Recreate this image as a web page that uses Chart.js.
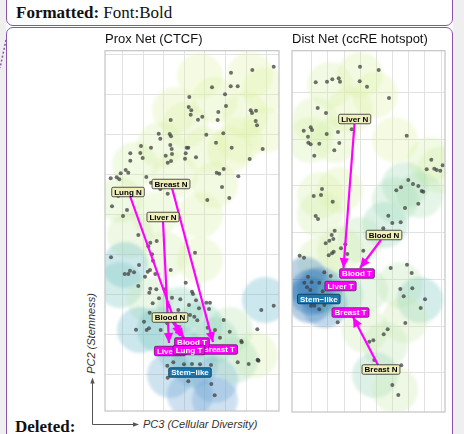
<!DOCTYPE html>
<html>
<head>
<meta charset="utf-8">
<script src="https://cdn.jsdelivr.net/npm/chart.js@4/dist/chart.umd.min.js"></script>
<style>
  html, body { margin: 0; padding: 0; background: #efefef; }
  #page { position: relative; width: 464px; height: 434px; overflow: hidden; background: #efefef; }
  #sheet { position: absolute; left: 6px; top: 0; width: 447px; height: 434px; background: #fff; }
  .box { position: absolute; box-sizing: border-box; border: 1.5px solid #8a55a6; }
  #fmtBox { left: 6px; top: -6px; width: 447px; height: 32px; border-radius: 0 0 7px 7px; }
  #paneBox { left: 6px; top: 27px; width: 447px; height: 420px; border-radius: 7px 7px 0 0; }
  .serif { position: absolute; font-family: "Liberation Serif", "Times New Roman", serif; font-size: 17px; line-height: 17px; color: #111; white-space: nowrap; }
  .axisNote { position: absolute; font-family: "Liberation Sans", Arial, sans-serif; font-style: italic; font-size: 11px; line-height: 11px; color: #333; white-space: nowrap; }
  canvas { position: absolute; }
</style>
</head>
<body>
<div id="page">
  <div id="sheet"></div>
  <div class="box" id="fmtBox"></div>
  <div class="box" id="paneBox"></div>
  <div class="serif" style="left:16px; top:4px;"><b>Formatted:</b> Font:Bold</div>
  <div class="serif" style="left:15px; top:418px;"><b>Deleted:</b></div>
  <svg width="464" height="434" style="position:absolute; left:0; top:0;">
    <line x1="6" y1="40" x2="0" y2="68" stroke="#8a55a6" stroke-width="1.5" stroke-dasharray="2,2"/>
    <path d="M92.5 424.5 V382" stroke="#555" stroke-width="1" fill="none"/>
    <path d="M92.5 424.5 H134" stroke="#555" stroke-width="1" fill="none"/>
    <polygon points="92.5,377.5 90.3,383.5 94.7,383.5" fill="#555"/>
    <polygon points="139,424.5 133,422.3 133,426.7" fill="#555"/>
  </svg>
  <div class="axisNote" style="left:143px; top:418.5px;">PC3 (Cellular Diversity)</div>
  <div class="axisNote" style="left:31px; top:328px; width:120px; text-align:center; transform: rotate(-90deg); transform-origin: 60px 5.5px;">PC2 (Stemness)</div>
  <canvas id="prox" width="182" height="385" style="left:101px; top:30px;"></canvas>
  <canvas id="dist" width="161" height="386" style="left:288px; top:30px;"></canvas>
</div>
<script>
// ---------- Prox Net (CTCF) ----------
// cell positions: [PC3, PC2]
const proxCells = [
  [168.7,344.3],[147.3,341],[126,338.3],[107,323.7],[125.7,324.7],[132.7,324.7],[120,316.7],[84.3,314],[121,305],[83.7,304],
  [86.3,300.7],[85.7,296.3],[113.3,299],[145.7,300.7],[151,300.3],[147,298],[97.3,294.3],[93,291.3],[112.7,291],[65.7,291],
  [150.7,290],[152,285.7],[53.7,277.3],[64.7,277],[66,274.7],[101.3,276.3],[118.3,277.7],[55.3,272.3],[111,268.3],[36,265],
  [46,263.3],[65.3,266],[66.7,262],[81.7,263.3],[83.3,263.3],[126.7,263.3],[157.7,262],[25.3,257.7],[35.3,258],[80.7,257.7],
  [67,257],[60.7,255.3],[37.7,253],[91,253.7],[80,252.3],[66,250],[25.3,250.3],[62.7,248.3],[144.7,252],[118.7,242],
  [20.7,241],[23.3,238.3],[15.7,237.7],[11.7,233.7],[5.7,232.7],[14.3,231.7],[111.7,238.3],[114.3,237.3],[133.3,234.7],[41.3,234],
  [46,228.3],[117,224],[55.3,222],[62.7,217.3],[124.3,213],[102.3,211],[13.3,215],[7,204.7],[22,201],[18,195],
  [33.3,176],[45.3,168.3],[51.7,170],[43.3,164.7],[6,153.7],[90,158.3],[47,156.7],[48,150.3],[34,146],[45,141],
  [42.7,139.3],[25,140.3],[29,138.7],[19.7,137],[23.3,137],[40,134.3],[65.7,141],[50.3,137],[80.7,128.3],[33.3,125],
  [45.3,122.3],[51.3,121.7],[44.3,118.3],[59.7,121.7],[87,119.3],[88,117],[54,112.7],[67,113.3],[75.3,111.7],[91,110.7],
  [101.3,108.3],[105,108.3],[47.7,107.7],[84,106],[63.7,105],[94,102.7],[104,102],[73.3,101],[44.7,98.3],[85,96],
  [89.3,94.3],[92.3,90.7],[118.7,91],[39,89.3],[31,81.3],[41.7,81],[44,82.7],[55.7,81],[73,84.3],[62.3,87.7],
  [102.7,83.3],[110,81],[124.7,79.3],[152.3,81.7],[156.3,101],[168.7,105.3],[115,73.3],[136.3,70],[136.7,68.7],[132.7,48.7],
  [143.7,47],[153,50.7],[153.5,50.2],[152.6,51.2],[62.3,45.3],[79,46.7],[87,47],[95,46.7],[106,46],[68.3,48.7],
  [62.7,33.3],[83.3,29.7],[106.3,27],[109.7,15.7]
];
// density halos: [PC3, PC2, stemness score]
const proxHalos = [
  [145,336,0.05],[110,311,0.08],[140,296,0.06],[80,286,0.1],[55,266,0.1],[100,261,0.08],[125,261,0.06],[30,246,0.12],
  [70,236,0.1],[110,226,0.08],[15,211,0.15],[50,196,0.12],[95,196,0.08],[25,176,0.2],[60,156,0.15],[95,151,0.1],
  [70,301,0.06],[135,271,0.05],[160,281,0.04],[160,321,0.04],[95,335,0.04],
  [20,146,0.62],[15,126,0.55],[45,111,0.3],[160,111,0.66],[150,56,0.1],[125,81,0.35],[75,101,0.48],[95,86,0.5],
  [55,81,0.52],[35,81,0.66],[110,71,0.45],[75,61,0.55],[90,46,0.62],[65,36,0.75],[110,31,0.78],[85,16,0.8],
  [110,11,0.8],[130,51,0.42]
];
const proxTagNames = ['Lung N', 'Breast N', 'Liver N', 'Blood N', 'Stem\u2212like', 'Breast T', 'Blood T', 'Liver T', 'Lung T'];
const proxTagKinds = ['normal', 'normal', 'normal', 'normal', 'stem', 'tumor', 'tumor', 'tumor', 'tumor'];
const proxTagPos = [[23,219],[66,227],[58,194],[65,93.5],[85,38.5],[114,61.5],[87,68.5],[65,60],[84,61]];
// transitions normal -> tumour
const proxMoveFrom = [[25,215],[58,190],[67,223],[67,90]];
const proxMoveTo = [[75,75],[64,68],[108,69],[79,73]];
const proxGridX = [17.5, 38.1, 58.7, 79.3, 99.9, 120.5, 141.1, 161.7];
const proxGridY = [36.7, 76.7, 116.7, 156.7, 196.7, 236.7, 276.7, 316.7, 356.7];

// ---------- Dist Net (ccRE hotspot) ----------
const distCells = [
  [68,345.3],[86.7,342],[23.7,329.7],[35,330.3],[40.3,332.7],[46.7,333.7],[48,330.3],[67.7,330.7],[75,325.3],[97,314],
  [25.7,304],[34,299],[18.7,284.7],[11.7,281.3],[20,282],[34.7,278],[46,280],[59.7,282.7],[16,275.3],[16.3,269.3],
  [18.7,267.7],[27.3,268.3],[47.3,269],[42.3,261.7],[22.3,256.3],[114.7,276.3],[139.3,252.3],[134.7,242.7],[142.3,243.3],[144.7,242],
  [148.3,241.3],[150.7,246.7],[116.3,232],[121,228],[126.3,226],[109,224.7],[104.3,221.7],[129.7,221],[131.3,220.3],[126.3,208.3],
  [113,204],[30,223],[21.7,216],[29,217],[40.7,210.3],[23.7,196],[26,193],[96.3,196.3],[100.3,189],[108.7,189.7],
  [91.3,183.7],[42.7,181.3],[39.7,177],[41.3,173],[37.3,171.3],[33.7,168.7],[53.3,167.7],[41.7,160.3],[40,158.7],[36.7,156.7],
  [55.3,158],[71.3,161.3],[7.7,156.3],[12,154.3],[32.3,139.7],[38.7,136],[115,147.3],[98.7,144],[119.7,139],[16,135.3],
  [12.3,129.3],[19.7,129.7],[27.3,129.3],[108.3,123],[120.3,123.7],[111.7,115.7],[133,112.7],[18.3,122],[30.7,120.7],[15,124.7],
  [19,106.3],[22.3,106.3],[32.3,107],[27.3,102.7],[128.7,104],[113.3,89],[45.7,89.7],[95.7,82.7],[91.7,77.7],[77.3,70.3],
  [81.3,71.7],[82.3,52],[109.3,46.7],[100.3,27],[106.3,17],[49,163.7]
];
const distHalos = [
  [68,337,0.08],[38,327,0.1],[83,317,0.05],[23,292,0.1],[18,272,0.12],[43,272,0.1],[103,272,0.05],[138,252,0.12],
  [148,242,0.15],[28,217,0.12],[28,197,0.15],[58,302,0.06],[48,222,0.08],
  [113,227,0.42],[128,217,0.38],[103,212,0.4],[93,187,0.46],[68,172,0.35],
  [48,162,0.15],[28,152,0.15],[13,132,0.95],[28,122,0.95],[18,112,1.0],[33,107,0.9],[20,120,1.0],[48,117,0.5],[73,122,0.35],
  [108,127,0.3],[128,112,0.55],[113,92,0.2],[73,82,0.2],[93,67,0.3],[83,37,0.45],[103,22,0.2]
];
const distTagNames = ['Liver N', 'Blood N', 'Breast N', 'Stem\u2212like', 'Breast T', 'Blood T', 'Liver T'];
const distTagKinds = ['normal', 'normal', 'normal', 'stem', 'tumor', 'tumor', 'tumor'];
const distTagPos = [[62.7,293],[92,177],[89,42.5],[26.8,113],[58.5,99.5],[65,138.5],[48.5,126]];
const distMoveFrom = [[62.5,288],[89,172],[86,47]];
const distMoveTo = [[51.5,144],[68,144],[61,95]];
const distGridX = [19.7, 35.9, 52.0, 68.2, 84.3, 100.5, 116.7, 132.8, 149.0];
const distGridY = [39.3, 86.0, 132.7, 179.4, 226.1, 272.8, 319.5];

// ---------- styling helpers ----------
const SANS = '"Liberation Sans", Arial, Helvetica, sans-serif';
const haloStops = [[0, '#e4f4a4'], [0.35, '#b9e4b4'], [0.5, '#86cfbb'], [0.65, '#64b6c8'], [0.8, '#6da3d4'], [1, '#1f6cb0']];
function rgb(h) { return [1, 3, 5].map(i => parseInt(h.substr(i, 2), 16)); }
function haloColor(s, a) {
  for (let i = 1; i < haloStops.length; i++) {
    const [s0, c0] = haloStops[i - 1], [s1, c1] = haloStops[i];
    if (s <= s1 || i === haloStops.length - 1) {
      const t = Math.max(0, Math.min(1, (s - s0) / (s1 - s0)));
      const a0 = rgb(c0), a1 = rgb(c1);
      const c = a0.map((v, k) => Math.round(v + (a1[k] - v) * t));
      return `rgba(${c[0]},${c[1]},${c[2]},${a})`;
    }
  }
}
const tagStyle = {
  normal: { fill: '#efefbd', stroke: '#2a2a2a', text: '#000' },
  tumor:  { fill: '#ff00ff', stroke: '#5a1a5a', text: '#fff' },
  stem:   { fill: '#1b76ad', stroke: '#10334d', text: '#fff' }
};

// frame around each plotting panel
const panelFrame = {
  id: 'panelFrame',
  afterDraw(chart) {
    const { ctx, chartArea: a } = chart;
    ctx.save();
    ctx.strokeStyle = '#c4c4c4';
    ctx.lineWidth = 1.2;
    ctx.strokeRect(a.left, a.top, a.right - a.left, a.bottom - a.top);
    ctx.restore();
  }
};
// soften the density halos
const softHalo = {
  id: 'softHalo',
  beforeDatasetDraw(chart, args) {
    if (chart.data.datasets[args.index].halo) { chart.ctx.save(); chart.ctx.filter = 'blur(1.6px)'; }
  },
  afterDatasetDraw(chart, args) {
    if (chart.data.datasets[args.index].halo) chart.ctx.restore();
  }
};
// arrowheads at the tumour end of each transition
const arrowHeads = {
  id: 'arrowHeads',
  afterDatasetsDraw(chart) {
    const ctx = chart.ctx;
    chart.data.datasets.forEach((ds, i) => {
      if (!ds.arrow) return;
      const pts = chart.getDatasetMeta(i).data;
      const a = pts[0], b = pts[1];
      const ang = Math.atan2(b.y - a.y, b.x - a.x);
      const len = 10, half = 4.6;
      ctx.save();
      ctx.translate(b.x, b.y);
      ctx.rotate(ang);
      ctx.beginPath();
      ctx.moveTo(0, 0);
      ctx.lineTo(-len, -half);
      ctx.lineTo(-len, half);
      ctx.closePath();
      ctx.fillStyle = ds.borderColor;
      ctx.fill();
      ctx.restore();
    });
  }
};
// boxed case labels
const caseTags = {
  id: 'caseTags',
  afterDatasetsDraw(chart, args, opts) {
    const { ctx, scales } = chart;
    ctx.save();
    ctx.font = `bold 8px ${SANS}`;
    ctx.textAlign = 'center';
    ctx.textBaseline = 'middle';
    opts.names.forEach((name, i) => {
      const st = tagStyle[opts.kinds[i]];
      const cx = scales.x.getPixelForValue(opts.pos[i][0]);
      const cy = scales.y.getPixelForValue(opts.pos[i][1]);
      const w = ctx.measureText(name).width + 5, h = 9.5;
      const x0 = cx - w / 2, y0 = cy - h / 2;
      ctx.beginPath();
      ctx.roundRect(x0, y0, w, h, 1.5);
      ctx.fillStyle = st.fill;
      ctx.fill();
      ctx.lineWidth = 0.8;
      ctx.strokeStyle = st.stroke;
      ctx.stroke();
      ctx.fillStyle = st.text;
      ctx.fillText(name, cx, cy + 0.5);
    });
    ctx.restore();
  }
};

function buildPanel(id, title, cells, halos, moveFrom, moveTo, tagNames, tagKinds, tagPos, gridX, gridY, xMax, yMax) {
  const datasets = [];
  moveFrom.forEach((f, i) => {
    datasets.push({
      data: [{ x: f[0], y: f[1] }, { x: moveTo[i][0], y: moveTo[i][1] }],
      showLine: true, borderColor: '#ff00ff', borderWidth: 2.2,
      pointRadius: 0, order: 0, arrow: true
    });
  });
  datasets.push({
    data: cells.map(([x, y]) => ({ x, y })),
    pointRadius: 2, pointBorderWidth: 0,
    pointBackgroundColor: 'rgba(64,64,64,0.75)', order: 1
  });
  datasets.push({
    data: halos.map(([x, y]) => ({ x, y })),
    pointRadius: 23, pointBorderWidth: 0,
    pointBackgroundColor: halos.map(h => haloColor(h[2], 0.33)), order: 2, halo: true
  });
  const axis = (grid, max) => ({
    type: 'linear', min: 0, max,
    ticks: { display: false },
    grid: { color: '#e2e2e2', lineWidth: 1, drawTicks: false },
    border: { display: false },
    afterBuildTicks: s => { s.ticks = grid.map(v => ({ value: v })); }
  });
  return new Chart(document.getElementById(id), {
    type: 'scatter',
    data: { datasets },
    options: {
      responsive: false, animation: false, events: [], devicePixelRatio: 1,
      layout: { autoPadding: false, padding: { left: 4, right: 4, bottom: 4, top: 0 } },
      plugins: {
        legend: { display: false },
        tooltip: { enabled: false },
        title: {
          display: true, text: title, align: 'start', color: '#111',
          font: { family: SANS, size: 13, weight: 'normal', lineHeight: 1.2 },
          padding: { top: 2, bottom: 3.1 }
        },
        caseTags: { names: tagNames, kinds: tagKinds, pos: tagPos }
      },
      scales: { x: axis(gridX, xMax), y: axis(gridY, yMax) }
    },
    plugins: [softHalo, arrowHeads, caseTags, panelFrame]
  });
}

buildPanel('prox', 'Prox Net (CTCF)', proxCells, proxHalos, proxMoveFrom, proxMoveTo,
  proxTagNames, proxTagKinds, proxTagPos, proxGridX, proxGridY, 174, 360.3);
buildPanel('dist', 'Dist Net (ccRE hotspot)', distCells, distHalos, distMoveFrom, distMoveTo,
  distTagNames, distTagKinds, distTagPos, distGridX, distGridY, 153, 361.3);
</script>
</body>
</html>
